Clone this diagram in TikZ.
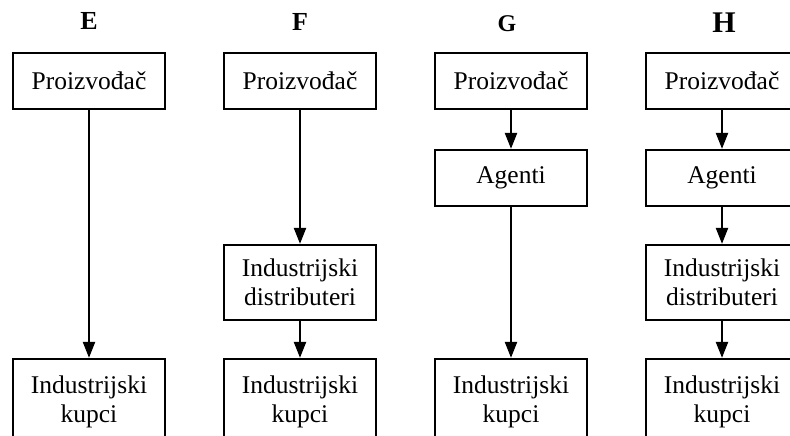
\documentclass[tikz,border=0pt]{standalone}
\usepackage{fontspec}
\setmainfont{Liberation Serif}
\usetikzlibrary{arrows.meta}
\begin{document}
\begin{tikzpicture}[x=1pt,y=-1pt,
  box/.style={draw, line width=2.2pt, minimum width=152pt, align=center,
    inner sep=0pt, font=\fontsize{25.5}{29}\selectfont},
  onebox/.style={box, minimum height=56pt},
  twobox/.style={box, minimum height=75pt},
  lowbox/.style={box, minimum height=86pt},
  flow/.style={line width=2.2pt, -{Triangle[width=12pt,length=16pt]}},
  head/.style={anchor=base, font=\bfseries\fontsize{26}{30}\selectfont}]
\useasboundingbox (0,0) rectangle (790,436);
\clip (0,0) rectangle (790,436);

% column headings
\node[head] (tE) at (89,30) {E};
\node[head] (tF) at (300,31) {F};
\node[head, font=\bfseries\fontsize{24}{28}\selectfont] (tG) at (507,32) {G};
\node[head, font=\bfseries\fontsize{30}{34}\selectfont] (tH) at (724,33) {H};

% E: producer straight to industrial buyers
\node[onebox] (e1) at (89,81) {Proizvođač};
\node[lowbox] (e2) at (89,402) {Industrijski\\kupci};
\draw[flow] (e1) -- (e2);

% F: via industrial distributors
\node[onebox] (f1) at (300,81) {Proizvođač};
\node[twobox] (f2) at (300,282.5) {Industrijski\\distributeri};
\node[lowbox] (f3) at (300,402) {Industrijski\\kupci};
\draw[flow] (f1) -- (f2);
\draw[flow] (f2) -- (f3);

% G: via agents
\node[onebox] (g1) at (511,81) {Proizvođač};
\node[onebox] (g2) at (511,178) {Agenti};
\node[lowbox] (g3) at (511,402) {Industrijski\\kupci};
\draw[flow] (g1) -- (g2);
\draw[flow] (g2) -- (g3);

% H: via agents and industrial distributors
\node[onebox] (h1) at (722,81) {Proizvođač};
\node[onebox] (h2) at (722,178) {Agenti};
\node[twobox] (h3) at (722,282.5) {Industrijski\\distributeri};
\node[lowbox] (h4) at (722,402) {Industrijski\\kupci};
\draw[flow] (h1) -- (h2);
\draw[flow] (h2) -- (h3);
\draw[flow] (h3) -- (h4);
\end{tikzpicture}
\end{document}
